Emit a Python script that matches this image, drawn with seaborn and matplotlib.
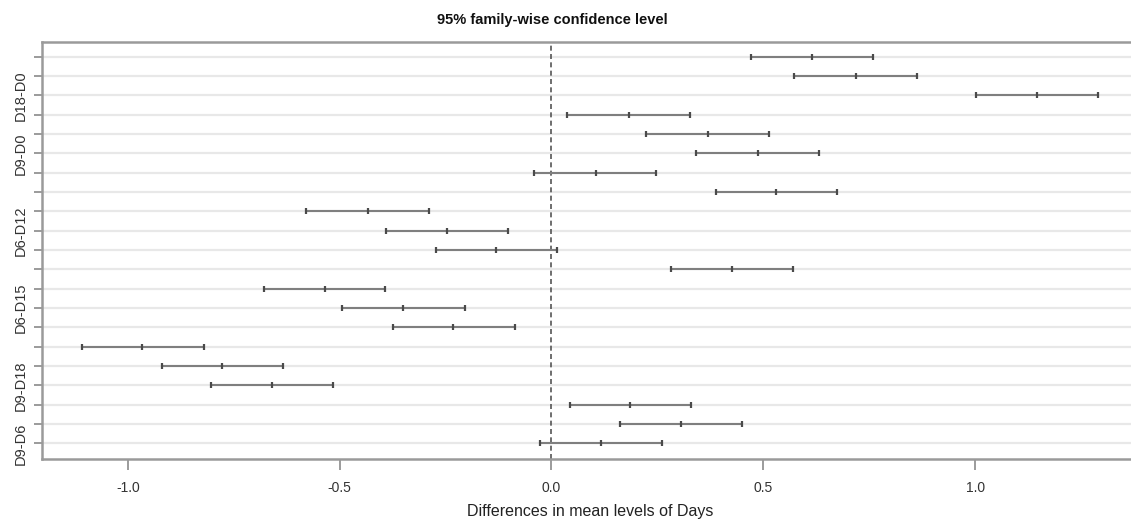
import matplotlib
matplotlib.use("Agg")
import matplotlib.pyplot as plt
import seaborn as sns
import pandas as pd
import numpy as np

comparisons = ["D12-D0", "D15-D0", "D18-D0", "D3-D0", "D6-D0", "D9-D0",
               "D15-D12", "D18-D12", "D3-D12", "D6-D12", "D9-D12",
               "D18-D15", "D3-D15", "D6-D15", "D9-D15",
               "D3-D18", "D6-D18", "D9-D18",
               "D6-D3", "D9-D3", "D9-D6"]
diff = [0.615, 0.720, 1.147, 0.183, 0.370, 0.488,
        0.104, 0.531, -0.433, -0.246, -0.130,
        0.427, -0.535, -0.350, -0.232,
        -0.966, -0.778, -0.660,
        0.185, 0.305, 0.116]
lwr = [0.472, 0.573, 1.002, 0.037, 0.224, 0.342,
       -0.041, 0.388, -0.579, -0.390, -0.273,
       0.283, -0.679, -0.494, -0.374,
       -1.108, -0.920, -0.805,
       0.043, 0.161, -0.026]
upr = [0.759, 0.863, 1.291, 0.328, 0.514, 0.631,
       0.246, 0.675, -0.290, -0.102, 0.013,
       0.570, -0.392, -0.205, -0.087,
       -0.821, -0.634, -0.517,
       0.329, 0.449, 0.261]
shown_labels = ["D18-D0", "D9-D0", "D6-D12", "D6-D15", "D9-D18", "D9-D6"]
x_ticks = [-1.0, -0.5, 0.0, 0.5, 1.0]
x_tick_labels = ["-1.0", "-0.5", "0.0", "0.5", "1.0"]

df = pd.DataFrame({"comparison": comparisons, "diff": diff, "lwr": lwr, "upr": upr})
df["row"] = np.arange(len(df))
long = df.melt(id_vars=["comparison", "row"], value_vars=["lwr", "diff", "upr"],
               var_name="stat", value_name="value")

sns.set_style("white")
plt.rcParams["font.family"] = ["Liberation Sans", "DejaVu Sans"]

fig = plt.figure(figsize=(11.31, 5.22), dpi=100)
W, H = 1131, 522
left, right, top, bottom = 41.5, 1139, 41.5, 458.5
ax = fig.add_axes([left / W, 1 - bottom / H, (right - left) / W, (bottom - top) / H])

# horizontal grid lines
for r in df["row"]:
    ax.axhline(r, color="#e8e8e8", lw=1.6, zorder=0)

line_col = "#7f7f7f"
sns.lineplot(data=long, x="value", y="row", units="comparison", estimator=None,
             sort=False, orient="y", color=line_col, lw=1.5, ax=ax, legend=False, zorder=3)
sns.scatterplot(data=long, x="value", y="row", marker="|", s=22, linewidth=1.6,
                color="#4a4a4a", ax=ax, legend=False, zorder=4)

ax.axvline(0, color="#555555", lw=1.2, ls=(0, (3, 2)), zorder=2)

ax.set_xlim(-1.204, 1.387)
ax.set_ylim(20.78, -0.78)
ax.set_yticks(df["row"])
ax.set_yticklabels([c if c in shown_labels else "" for c in comparisons],
                   rotation=90, va="center", fontsize=10.5, color="#333333")
ax.set_xticks(x_ticks)
ax.set_xticklabels(x_tick_labels, fontsize=10, color="#333333")
ax.tick_params(axis="y", direction="out", length=6, width=1.2, color="#8a8a8a", pad=4, left=True)
ax.tick_params(axis="x", direction="out", length=8, width=1.2, color="#8a8a8a", pad=8, bottom=True)

for s in ["left", "bottom", "top", "right"]:
    ax.spines[s].set_color("#9a9a9a")
    ax.spines[s].set_linewidth(1.8)

ax.set_xlabel("Differences in mean levels of Days", fontsize=11.5, color="#222222", labelpad=7)
ax.set_ylabel("")
fig.text(552 / W, 1 - 20 / H, "95% family-wise confidence level", ha="center", va="center",
         fontsize=10.5, fontweight="bold", color="#111111")

fig.savefig("out.png", dpi=100)
